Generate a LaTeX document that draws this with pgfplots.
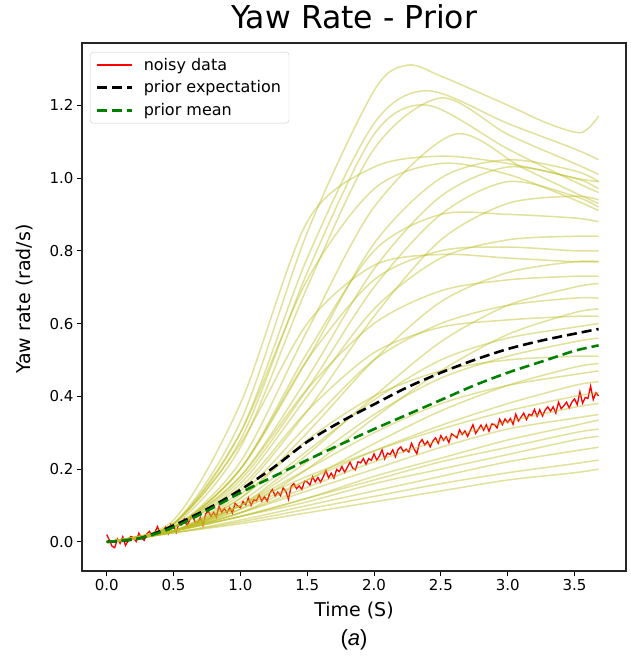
\documentclass[border=0pt]{standalone}
\usepackage{fontspec}
\setmainfont{DejaVu Sans}
\newfontfamily\capfont{Liberation Sans}
\usepackage{pgfplots}
\pgfplotsset{compat=1.18}
\definecolor{sampcol}{RGB}{188,189,34}
\definecolor{mplgreen}{RGB}{0,128,0}
\definecolor{legedge}{RGB}{204,204,204}
\pgfplotsset{samp/.style={color=sampcol, opacity=0.45, line width=1.5pt, smooth, forget plot}}
\begin{document}
\begin{tikzpicture}
\begin{axis}[
  name=ax,
  scale only axis, width=544pt, height=528pt,
  xmin=-0.185, xmax=3.885, ymin=-0.08, ymax=1.371,
  xtick={0,0.5,1,1.5,2,2.5,3,3.5},
  ytick={0,0.2,0.4,0.6,0.8,1.0,1.2},
  tick pos=left, tick align=outside, major tick length=5pt,
  tick style={black, line width=0.9pt},
  axis line style={line width=1.1pt, black!85},
  /pgf/number format/.cd, fixed, fixed zerofill, precision=1, assume math mode=true, /pgfplots/.cd,
  ticklabel style={font=\fontsize{15}{18}\selectfont},
  title={Yaw Rate - Prior},
  title style={font=\fontsize{31.5}{36}\selectfont, at={(0.5,1)}, anchor=base, yshift=8pt},
  xlabel={Time (S)}, ylabel={Yaw rate (rad/s)},
  every axis x label/.style={at={(axis description cs:0.5,-0.075)}, anchor=center, font=\fontsize{19}{23}\selectfont},
  every axis y label/.style={at={(axis description cs:-0.1048,0.515)}, anchor=center, rotate=90, font=\fontsize{19}{23}\selectfont},
  legend style={at={(0.0147,0.983)}, anchor=north west, font=\fontsize{16}{19}\selectfont,
    draw=legedge, rounded corners=3pt, fill=white, fill opacity=0.8, text opacity=1,
    row sep=5pt, column sep=8pt, inner xsep=6pt, inner ysep=4pt},
  legend cell align=left,
  legend image code/.code={\draw[#1] (0pt,0pt) -- (35pt,0pt);},
]
\addplot[red, line width=1.3pt] table {
0.00 0.020
0.02 0.005
0.04 -0.012
0.06 -0.016
0.08 0.008
0.10 -0.004
0.12 0.014
0.14 -0.010
0.16 0.003
0.18 0.015
0.20 0.012
0.22 0.001
0.24 0.024
0.26 0.011
0.28 0.004
0.30 0.022
0.32 0.029
0.34 0.016
0.36 0.026
0.38 0.042
0.40 0.021
0.42 0.029
0.44 0.041
0.46 0.023
0.48 0.049
0.50 0.044
0.52 0.026
0.54 0.052
0.56 0.047
0.58 0.063
0.60 0.044
0.62 0.059
0.64 0.074
0.66 0.055
0.68 0.052
0.70 0.067
0.72 0.045
0.74 0.077
0.76 0.085
0.78 0.070
0.80 0.081
0.82 0.068
0.84 0.098
0.86 0.081
0.88 0.092
0.90 0.080
0.92 0.094
0.94 0.079
0.96 0.106
0.98 0.099
1.00 0.094
1.02 0.111
1.04 0.102
1.06 0.121
1.08 0.100
1.10 0.116
1.12 0.113
1.14 0.129
1.16 0.112
1.18 0.124
1.20 0.112
1.22 0.134
1.24 0.144
1.26 0.126
1.28 0.137
1.30 0.127
1.32 0.148
1.34 0.139
1.36 0.117
1.38 0.153
1.40 0.160
1.42 0.146
1.44 0.154
1.46 0.144
1.48 0.167
1.50 0.165
1.52 0.156
1.54 0.179
1.56 0.165
1.58 0.177
1.60 0.164
1.62 0.179
1.64 0.196
1.66 0.176
1.68 0.189
1.70 0.175
1.72 0.199
1.74 0.193
1.76 0.207
1.78 0.191
1.80 0.205
1.82 0.219
1.84 0.203
1.86 0.198
1.88 0.220
1.90 0.217
1.92 0.229
1.94 0.213
1.96 0.229
1.98 0.224
2.00 0.242
2.02 0.225
2.04 0.236
2.06 0.253
2.08 0.228
2.10 0.244
2.12 0.240
2.14 0.253
2.16 0.234
2.18 0.254
2.20 0.261
2.22 0.248
2.24 0.255
2.26 0.247
2.28 0.271
2.30 0.255
2.32 0.242
2.34 0.272
2.36 0.281
2.38 0.266
2.40 0.276
2.42 0.261
2.44 0.277
2.46 0.286
2.48 0.271
2.50 0.292
2.52 0.279
2.54 0.289
2.56 0.273
2.58 0.297
2.60 0.292
2.62 0.286
2.64 0.308
2.66 0.295
2.68 0.305
2.70 0.290
2.72 0.306
2.74 0.322
2.76 0.298
2.78 0.309
2.80 0.321
2.82 0.307
2.84 0.322
2.86 0.304
2.88 0.324
2.90 0.323
2.92 0.313
2.94 0.337
2.96 0.322
2.98 0.338
3.00 0.328
3.02 0.339
3.04 0.323
3.06 0.351
3.08 0.332
3.10 0.343
3.12 0.354
3.14 0.336
3.16 0.351
3.18 0.347
3.20 0.364
3.22 0.345
3.24 0.363
3.26 0.346
3.28 0.362
3.30 0.371
3.32 0.359
3.34 0.371
3.36 0.354
3.38 0.384
3.40 0.366
3.42 0.374
3.44 0.384
3.46 0.368
3.48 0.384
3.50 0.393
3.52 0.377
3.54 0.412
3.56 0.381
3.58 0.397
3.60 0.394
3.62 0.428
3.64 0.391
3.66 0.410
3.68 0.401
};
\addlegendentry{noisy data}
% prior samples
\addplot[samp] coordinates {(0,0)(0.5,0.05)(1,0.33)(1.5,0.85)(2,1.24)(2.25,1.31)(2.5,1.28)(3,1.2)(3.3,1.15)(3.55,1.125)(3.68,1.17)};
\addplot[samp] coordinates {(0,0)(0.5,0.05)(1,0.3)(1.5,0.78)(2,1.15)(2.4,1.24)(3,1.15)(3.5,1.08)(3.68,1.05)};
\addplot[samp] coordinates {(0,0)(0.5,0.045)(1,0.26)(1.5,0.7)(2,1.08)(2.5,1.22)(3,1.12)(3.5,1.04)(3.68,1.01)};
\addplot[samp] coordinates {(0,0)(0.5,0.05)(1,0.28)(1.5,0.74)(2,1.12)(2.4,1.2)(3,1.08)(3.5,0.99)(3.68,0.96)};
\addplot[samp] coordinates {(0,0)(0.5,0.04)(1,0.22)(1.5,0.58)(2,0.92)(2.6,1.12)(3.1,1.03)(3.5,0.96)(3.68,0.93)};
\addplot[samp] coordinates {(0,0)(0.5,0.06)(1,0.38)(1.5,0.88)(2,1.03)(2.5,1.06)(3,1.04)(3.5,1.0)(3.68,0.99)};
\addplot[samp] coordinates {(0,0)(0.5,0.04)(1,0.2)(1.5,0.5)(2,0.82)(2.5,1.0)(3,1.05)(3.5,1.02)(3.68,0.99)};
\addplot[samp] coordinates {(0,0)(0.5,0.04)(1,0.18)(1.5,0.45)(2,0.75)(2.5,0.95)(3,1.03)(3.5,1.0)(3.68,0.97)};
\addplot[samp] coordinates {(0,0)(0.5,0.04)(1,0.17)(1.5,0.42)(2,0.7)(2.5,0.9)(3,0.99)(3.5,0.95)(3.68,0.92)};
\addplot[samp] coordinates {(0,0)(0.5,0.03)(1,0.14)(1.5,0.36)(2,0.62)(2.5,0.83)(3,0.93)(3.5,0.95)(3.68,0.94)};
\addplot[samp] coordinates {(0,0)(0.5,0.04)(1,0.2)(1.5,0.52)(2,0.8)(2.5,0.9)(3,0.9)(3.5,0.89)(3.68,0.88)};
\addplot[samp] coordinates {(0,0)(0.5,0.05)(1,0.3)(1.5,0.72)(2,0.97)(2.5,1.04)(3,1.01)(3.5,0.94)(3.68,0.91)};
\addplot[samp] coordinates {(0,0)(0.5,0.04)(1,0.16)(1.5,0.4)(2,0.64)(2.5,0.78)(3,0.83)(3.5,0.84)(3.68,0.84)};
\addplot[samp] coordinates {(0,0)(0.5,0.04)(1,0.2)(1.5,0.5)(2,0.72)(2.5,0.8)(3,0.81)(3.5,0.8)(3.68,0.8)};
\addplot[samp] coordinates {(0,0)(0.5,0.03)(1,0.12)(1.5,0.3)(2,0.5)(2.5,0.66)(3,0.74)(3.5,0.77)(3.68,0.77)};
\addplot[samp] coordinates {(0,0)(0.5,0.04)(1,0.18)(1.5,0.42)(2,0.6)(2.5,0.69)(3,0.72)(3.5,0.73)(3.68,0.73)};
\addplot[samp] coordinates {(0,0)(0.5,0.03)(1,0.1)(1.5,0.24)(2,0.4)(2.5,0.55)(3,0.65)(3.5,0.7)(3.68,0.71)};
\addplot[samp] coordinates {(0,0)(0.5,0.03)(1,0.13)(1.5,0.32)(2,0.5)(2.5,0.6)(3,0.65)(3.5,0.67)(3.68,0.67)};
\addplot[samp] coordinates {(0,0)(0.5,0.03)(1,0.09)(1.5,0.2)(2,0.34)(2.5,0.47)(3,0.57)(3.5,0.63)(3.68,0.64)};
\addplot[samp] coordinates {(0,0)(0.5,0.04)(1,0.15)(1.5,0.36)(2,0.52)(2.5,0.59)(3,0.61)(3.5,0.62)(3.68,0.62)};
\addplot[samp] coordinates {(0,0)(0.5,0.03)(1,0.11)(1.5,0.25)(2,0.39)(2.5,0.5)(3,0.56)(3.5,0.59)(3.68,0.6)};
\addplot[samp] coordinates {(0,0)(0.5,0.03)(1,0.1)(1.5,0.22)(2,0.35)(2.5,0.45)(3,0.51)(3.5,0.55)(3.68,0.56)};
\addplot[samp] coordinates {(0,0)(0.5,0.03)(1,0.12)(1.5,0.28)(2,0.4)(2.5,0.47)(3,0.5)(3.5,0.51)(3.68,0.51)};
\addplot[samp] coordinates {(0,0)(0.5,0.03)(1,0.08)(1.5,0.17)(2,0.27)(2.5,0.36)(3,0.43)(3.5,0.48)(3.68,0.49)};
\addplot[samp] coordinates {(0,0)(0.5,0.03)(1,0.1)(1.5,0.2)(2,0.3)(2.5,0.38)(3,0.43)(3.5,0.46)(3.68,0.47)};
\addplot[samp] coordinates {(0,0)(0.5,0.05)(1,0.27)(1.5,0.6)(2,0.76)(2.5,0.79)(3,0.78)(3.5,0.77)(3.68,0.77)};
\addplot[samp] coordinates {(0,0)(0.5,0.03)(1,0.09)(1.5,0.17)(2,0.25)(2.5,0.32)(3,0.38)(3.5,0.43)(3.68,0.44)};
\addplot[samp] coordinates {(0,0)(0.5,0.03)(1,0.1)(1.5,0.18)(2,0.25)(2.5,0.31)(3,0.36)(3.5,0.4)(3.68,0.41)};
\addplot[samp] coordinates {(0,0)(0.5,0.03)(1,0.08)(1.5,0.15)(2,0.22)(2.5,0.28)(3,0.33)(3.5,0.37)(3.68,0.38)};
\addplot[samp] coordinates {(0,0)(0.5,0.03)(1,0.08)(1.5,0.14)(2,0.2)(2.5,0.26)(3,0.31)(3.5,0.34)(3.68,0.35)};
\addplot[samp] coordinates {(0,0)(0.5,0.03)(1,0.07)(1.5,0.12)(2,0.18)(2.5,0.23)(3,0.28)(3.5,0.32)(3.68,0.335)};
\addplot[samp] coordinates {(0,0)(0.5,0.03)(1,0.07)(1.5,0.12)(2,0.17)(2.5,0.22)(3,0.26)(3.5,0.3)(3.68,0.31)};
\addplot[samp] coordinates {(0,0)(0.5,0.03)(1,0.07)(1.5,0.11)(2,0.16)(2.5,0.2)(3,0.24)(3.5,0.28)(3.68,0.29)};
\addplot[samp] coordinates {(0,0)(0.5,0.025)(1,0.06)(1.5,0.1)(2,0.14)(2.5,0.18)(3,0.22)(3.5,0.25)(3.68,0.26)};
\addplot[samp] coordinates {(0,0)(0.5,0.025)(1,0.055)(1.5,0.09)(2,0.125)(2.5,0.16)(3,0.19)(3.5,0.215)(3.68,0.225)};
\addplot[samp] coordinates {(0,0)(0.5,0.025)(1,0.05)(1.5,0.08)(2,0.11)(2.5,0.14)(3,0.17)(3.5,0.19)(3.68,0.2)};
% expectation and mean
\addplot[black, line width=2.6pt, dash pattern=on 10pt off 5pt, smooth] coordinates {(0,0)(0.25,0.01)(0.5,0.045)(0.75,0.09)(1.0,0.143)(1.25,0.205)(1.5,0.275)(1.75,0.33)(2.0,0.378)(2.25,0.425)(2.5,0.465)(2.75,0.5)(3.0,0.53)(3.25,0.553)(3.5,0.572)(3.68,0.585)};
\addlegendentry{prior expectation}
\addplot[mplgreen, line width=2.6pt, dash pattern=on 10pt off 5pt, smooth] coordinates {(0,0)(0.25,0.01)(0.5,0.04)(0.75,0.085)(1.0,0.135)(1.25,0.18)(1.5,0.225)(1.75,0.268)(2.0,0.31)(2.25,0.35)(2.5,0.39)(2.75,0.43)(3.0,0.465)(3.25,0.495)(3.5,0.525)(3.68,0.54)};
\addlegendentry{prior mean}
\end{axis}
\node[font=\capfont\fontsize{22}{26}\selectfont] at ([yshift=-69pt]ax.south) {(\textit{a})};
\pgfresetboundingbox
\path[use as bounding box] ([xshift=-82pt,yshift=-90pt]ax.south west) rectangle ([xshift=5pt,yshift=43pt]ax.north east);
\end{tikzpicture}
\end{document}
